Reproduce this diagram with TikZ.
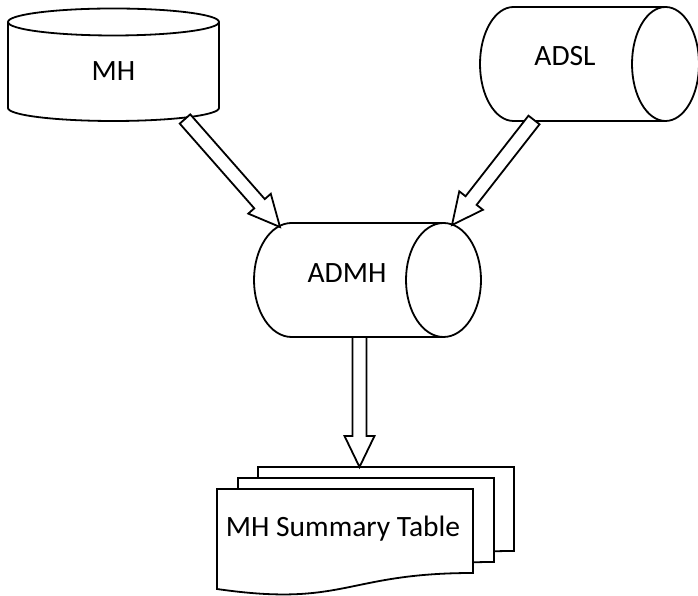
\documentclass[tikz,border=0pt]{standalone}
\usepackage{fontspec}
\setmainfont{Carlito}
\usetikzlibrary{calc}

% hollow block arrow from #1 (tail) to #2 (tip)
\newcommand\blockarrow[2]{%
  \coordinate (ba-base) at ($(#2)!31pt!(#1)$);
  \draw[blockarrowline]
    ($(#1)!7pt!90:(#2)$) -- ($(ba-base)!7pt!90:(#2)$) --
    ($(ba-base)!15pt!90:(#2)$) -- (#2) --
    ($(ba-base)!15pt!-90:(#2)$) -- ($(ba-base)!7pt!-90:(#2)$) --
    ($(#1)!7pt!-90:(#2)$) -- cycle;}

% one sheet of the stacked document, top-left corner at (#1,#2)
\newcommand\docsheet[2]{%
  \draw[shapeline,shift={(#1,#2)}] (0,0) -- (256,0) -- (256,-84)
    .. controls (128,-84) and (128,-118.5) .. (0,-100) -- cycle;}

\begin{document}
\begin{tikzpicture}[x=1pt,y=1pt,line width=1.8pt,
  shapeline/.style={draw=black,fill=white},
  blockarrowline/.style={draw=black,fill=white,line join=miter},
  label/.style={inner sep=0pt,anchor=base,font=\fontsize{29.5}{35}\selectfont}]
\useasboundingbox (0,0) rectangle (698,596);

% MH: upright drum
\draw[shapeline] (8,574) -- (8,488)
  arc[start angle=180,end angle=360,x radius=105.5,y radius=13] -- (219,574);
\draw[shapeline] (113.5,574) ellipse[x radius=105.5,y radius=13.5];
\node[label] (mh) at (113.5,515) {MH};

% ADSL: lying drum
\draw[shapeline] (665.5,589) -- (513.5,589)
  arc[start angle=90,end angle=270,x radius=33.5,y radius=57] -- (665.5,475);
\draw[shapeline] (665.5,532) ellipse[x radius=33.5,y radius=57];
\node[label] (adsl) at (565,530) {ADSL};

% ADMH: lying drum
\draw[shapeline] (443.5,373) -- (291.5,373)
  arc[start angle=90,end angle=270,x radius=37.5,y radius=57] -- (443.5,259);
\draw[shapeline] (443.5,316) ellipse[x radius=37.5,y radius=57];
\node[label] (admh) at (347,313) {ADMH};

% stacked documents
\docsheet{258}{129}
\docsheet{238}{118}
\docsheet{217}{107}
\node[label] (summary) at (343,59) {MH Summary Table};

% connection points
\coordinate (mh-out) at (185,477);
\coordinate (admh-inl) at (280,369);
\coordinate (adsl-out) at (534,476);
\coordinate (admh-inr) at (452,371);
\coordinate (admh-out) at (359.5,259);
\coordinate (doc-in) at (359.5,129);

\blockarrow{mh-out}{admh-inl}
\blockarrow{adsl-out}{admh-inr}
\blockarrow{admh-out}{doc-in}
\end{tikzpicture}
\end{document}
